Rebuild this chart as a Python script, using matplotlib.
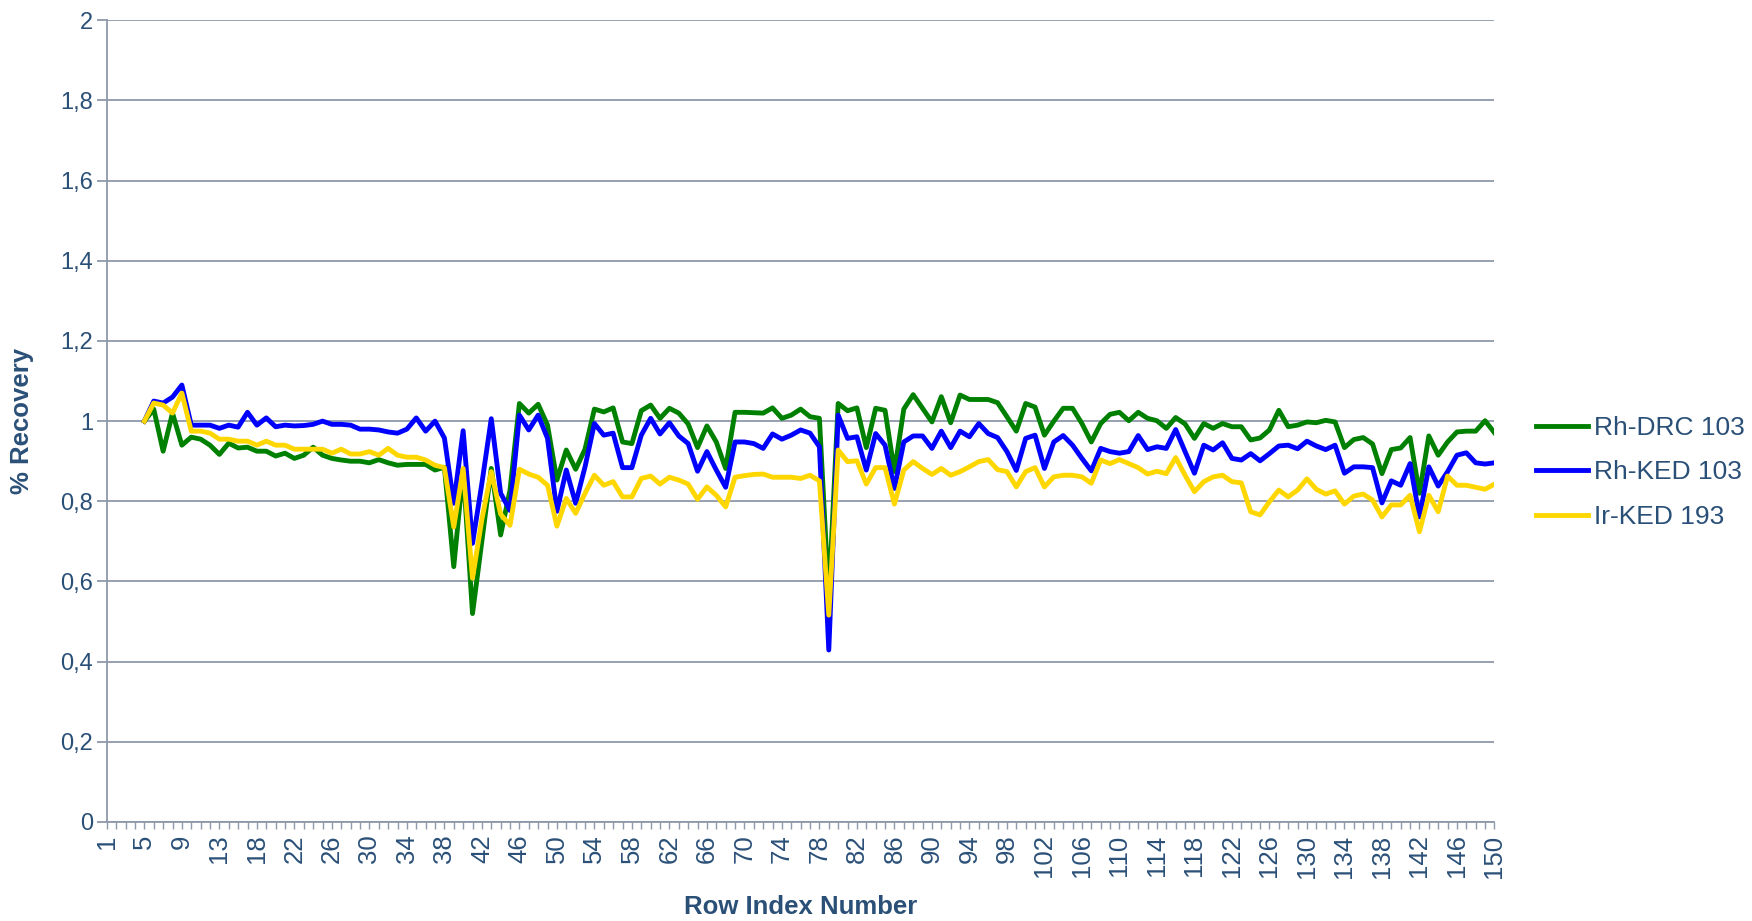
import matplotlib
matplotlib.use('Agg')
import matplotlib.pyplot as plt
import numpy as np

# row index numbers on the category axis (14 is not in the sheet)
row_index = list(range(1, 14)) + list(range(15, 151))
first_row = 4  # data starts at row index 5

rh_drc = [
    1.00, 1.03, 0.925, 1.02, 0.94, 0.96, 0.955, 0.94, 0.917, 0.945,
    0.933, 0.935, 0.925, 0.925, 0.913, 0.92, 0.907, 0.915, 0.935, 0.915,
    0.907, 0.903, 0.90, 0.90, 0.896, 0.904, 0.896, 0.89, 0.892, 0.892,
    0.892, 0.878, 0.885, 0.637, 0.878, 0.52, 0.70, 0.882, 0.716, 0.828,
    1.044, 1.02, 1.042, 0.99, 0.853, 0.928, 0.88, 0.93, 1.03, 1.023,
    1.033, 0.948, 0.944, 1.026, 1.04, 1.007, 1.032, 1.02, 0.993, 0.934,
    0.988, 0.948, 0.882, 1.022, 1.022, 1.021, 1.02, 1.033, 1.007, 1.015,
    1.03, 1.011, 1.007, 0.56, 1.044, 1.026, 1.033, 0.934, 1.032, 1.027,
    0.874, 1.03, 1.066, 1.032, 0.998, 1.061, 0.996, 1.065, 1.054, 1.054,
    1.054, 1.046, 1.011, 0.975, 1.044, 1.035, 0.965, 1.0, 1.032, 1.032,
    0.994, 0.948, 0.994, 1.017, 1.022, 1.001, 1.022, 1.007, 1.001, 0.982,
    1.009, 0.993, 0.957, 0.994, 0.982, 0.994, 0.986, 0.986, 0.953, 0.958,
    0.978, 1.027, 0.986, 0.99, 0.998, 0.996, 1.002, 0.998, 0.934, 0.954,
    0.959, 0.943, 0.869, 0.929, 0.933, 0.959, 0.82, 0.963, 0.915, 0.948,
    0.973, 0.975, 0.975, 1.001, 0.971,
]

rh_ked = [
    1.00, 1.05, 1.045, 1.06, 1.09, 0.99, 0.99, 0.99, 0.982, 0.99,
    0.985, 1.022, 0.99, 1.008, 0.986, 0.99, 0.988, 0.989, 0.992, 1.0,
    0.992, 0.992, 0.99, 0.98, 0.98, 0.978, 0.973, 0.97, 0.98, 1.008,
    0.975, 1.0, 0.958, 0.795, 0.976, 0.695, 0.845, 1.006, 0.82, 0.777,
    1.015, 0.978, 1.015, 0.957, 0.775, 0.878, 0.795, 0.886, 0.994, 0.965,
    0.97, 0.884, 0.884, 0.965, 1.007, 0.968, 0.996, 0.963, 0.944, 0.875,
    0.924, 0.878, 0.835, 0.948, 0.948, 0.944, 0.932, 0.968, 0.955, 0.965,
    0.978, 0.97, 0.936, 0.429, 1.015, 0.957, 0.961, 0.878, 0.969, 0.94,
    0.832, 0.948, 0.963, 0.963, 0.932, 0.975, 0.934, 0.975, 0.961, 0.994,
    0.969, 0.959, 0.924, 0.877, 0.957, 0.965, 0.882, 0.948, 0.964, 0.94,
    0.907, 0.876, 0.932, 0.924, 0.92, 0.924, 0.964, 0.929, 0.936, 0.932,
    0.979, 0.924, 0.87, 0.94, 0.928, 0.946, 0.907, 0.903, 0.919, 0.901,
    0.919, 0.938, 0.94, 0.931, 0.95, 0.938, 0.929, 0.94, 0.87, 0.886,
    0.886, 0.884, 0.796, 0.851, 0.84, 0.894, 0.761, 0.886, 0.838, 0.874,
    0.915, 0.921, 0.896, 0.893, 0.896,
]

ir_ked = [
    1.00, 1.045, 1.04, 1.02, 1.07, 0.975, 0.975, 0.97, 0.955, 0.955,
    0.95, 0.95, 0.94, 0.95, 0.94, 0.94, 0.93, 0.93, 0.93, 0.93,
    0.92, 0.93, 0.918, 0.918, 0.924, 0.915, 0.932, 0.915, 0.91, 0.91,
    0.903, 0.89, 0.884, 0.736, 0.882, 0.608, 0.755, 0.874, 0.768, 0.74,
    0.88, 0.868, 0.86, 0.84, 0.738, 0.807, 0.77, 0.82, 0.865, 0.84,
    0.849, 0.811, 0.811, 0.857, 0.863, 0.843, 0.86, 0.853, 0.843, 0.805,
    0.836, 0.815, 0.786, 0.86, 0.864, 0.867, 0.868, 0.86, 0.86, 0.86,
    0.857, 0.865, 0.851, 0.516, 0.928, 0.899, 0.901, 0.843, 0.884, 0.884,
    0.793, 0.878, 0.899, 0.882, 0.867, 0.882, 0.865, 0.874, 0.886, 0.899,
    0.904, 0.879, 0.874, 0.836, 0.874, 0.884, 0.836, 0.861, 0.865, 0.865,
    0.861, 0.845, 0.903, 0.894, 0.904, 0.894, 0.884, 0.868, 0.875, 0.869,
    0.909, 0.865, 0.824, 0.849, 0.861, 0.865, 0.849, 0.846, 0.774, 0.766,
    0.799, 0.828, 0.811, 0.828, 0.856, 0.83, 0.818, 0.826, 0.793, 0.813,
    0.818, 0.803, 0.761, 0.791, 0.791, 0.815, 0.724, 0.815, 0.774, 0.863,
    0.84, 0.84, 0.835, 0.83, 0.843,
]

series_names = ['Rh-DRC 103', 'Rh-KED 103', 'Ir-KED 193']
series_colors = ['#008000', '#0000FF', '#FFD700']

y_ticks = [0, 0.2, 0.4, 0.6, 0.8, 1.0, 1.2, 1.4, 1.6, 1.8, 2.0]
y_tick_labels = ['0', '0,2', '0,4', '0,6', '0,8', '1', '1,2', '1,4', '1,6', '1,8', '2']

TEXT = '#2B5078'
GRID = '#8E99AB'

plt.rcParams['font.family'] = ['Liberation Sans', 'DejaVu Sans']

fig = plt.figure(figsize=(17.52, 9.21), dpi=100)
ax = fig.add_axes([0.061, 0.1075, 0.792, 0.8705])

x = np.arange(first_row, len(row_index))
for vals, name, col in zip([rh_drc, rh_ked, ir_ked], series_names, series_colors):
    ax.plot(x, vals, color=col, lw=3.5, label=name, solid_joinstyle='round')

ax.set_xlim(0, len(row_index) - 1)
ax.set_ylim(0, 2)

ax.set_yticks(y_ticks)
ax.set_yticklabels(y_tick_labels)
ax.set_xticks(np.arange(len(row_index)))
ax.set_xticklabels([str(r) if i % 4 == 0 else '' for i, r in enumerate(row_index)],
                   rotation=90)

ax.grid(axis='y', color=GRID, lw=1.3)
ax.set_axisbelow(True)
for s in ['top', 'right']:
    ax.spines[s].set_visible(False)
for s in ['left', 'bottom']:
    ax.spines[s].set_color(GRID)
    ax.spines[s].set_linewidth(1.3)

ax.tick_params(axis='y', colors=GRID, labelcolor=TEXT, labelsize=17, length=7, width=1.3, pad=3)
ax.tick_params(axis='x', colors=GRID, labelcolor=TEXT, labelsize=18.5, length=5, width=1, pad=4)

ax.set_ylabel('% Recovery', fontsize=18.5, fontweight='bold', color=TEXT)
ax.yaxis.set_label_coords(-0.061, 0.5)
ax.yaxis.label.set_va('center')
ax.set_xlabel('Row Index Number', fontsize=18.5, fontweight='bold', color=TEXT)
ax.xaxis.set_label_coords(0.5, -0.106)
ax.xaxis.label.set_va('center')

leg = ax.legend(loc='center left', bbox_to_anchor=(1.022, 0.436), frameon=False,
                fontsize=19, handlelength=2.0, handletextpad=0.2, labelspacing=0.78,
                borderaxespad=0)
for t in leg.get_texts():
    t.set_color(TEXT)

fig.savefig('out.png', dpi=100)
